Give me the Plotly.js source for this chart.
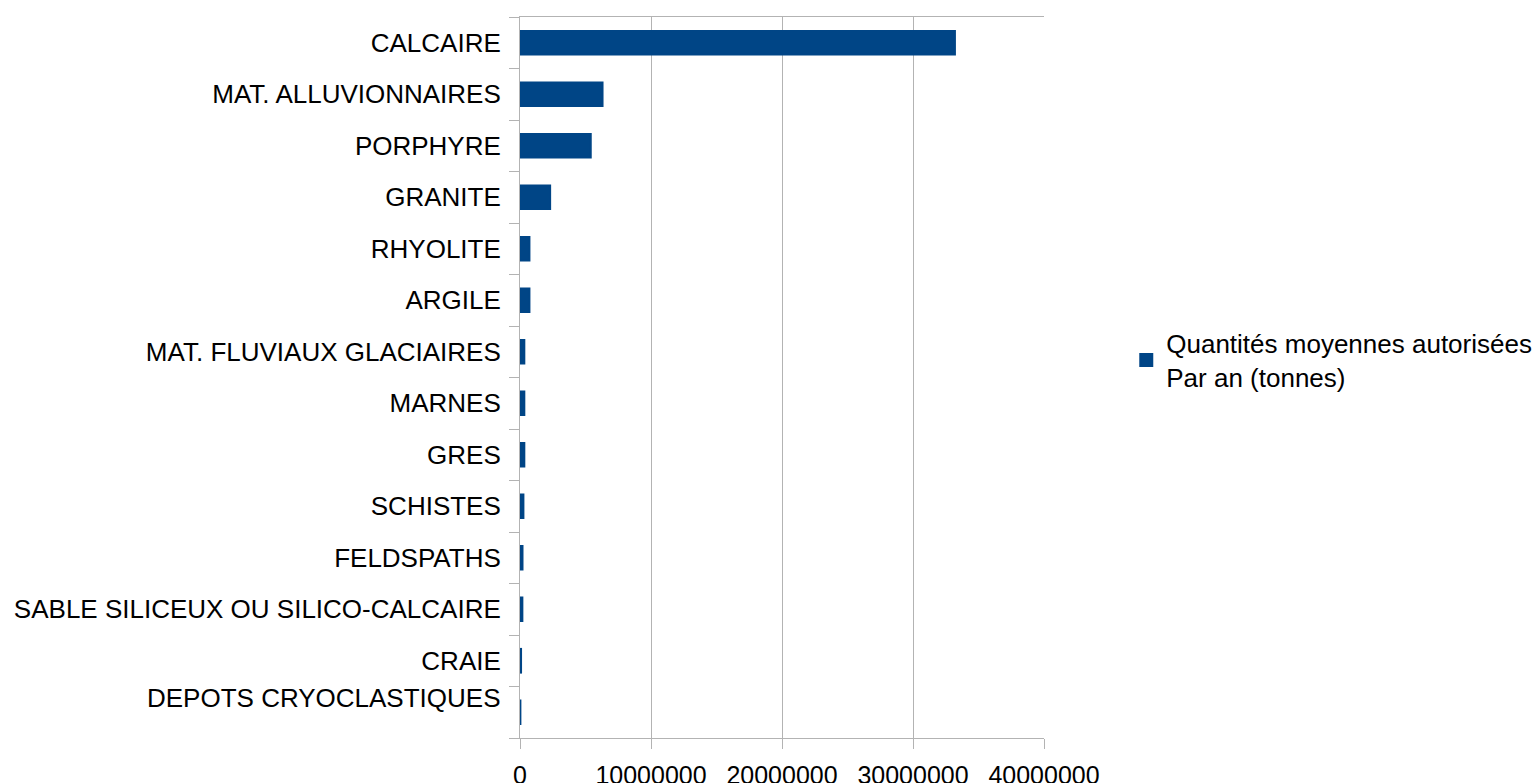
<!DOCTYPE html>
<html>
<head>
<meta charset="utf-8">
<script src="https://cdn.plot.ly/plotly-3.0.1.min.js"></script>
<style>
html, body { margin: 0; padding: 0; background: #ffffff; }
#chart { width: 1535px; height: 783px; }
</style>
</head>
<body>
<div id="chart"></div>
<script>
const categories = [
  "CALCAIRE",
  "MAT. ALLUVIONNAIRES",
  "PORPHYRE",
  "GRANITE",
  "RHYOLITE",
  "ARGILE",
  "MAT. FLUVIAUX GLACIAIRES",
  "MARNES",
  "GRES",
  "SCHISTES",
  "FELDSPATHS",
  "SABLE SILICEUX OU SILICO-CALCAIRE",
  "CRAIE",
  "DEPOTS CRYOCLASTIQUES"
];
const quantites = [
  33200000, 6300000, 5400000, 2300000, 720000, 720000,
  330000, 330000, 330000, 260000, 190000, 180000, 80000, 30000
];
const seriesName = "Quantités moyennes autorisées<br>Par an (tonnes)";
const xTickValues = [0, 10000000, 20000000, 30000000, 40000000];
const xTickLabels = ["0", "10000000", "20000000", "30000000", "40000000"];

const font = "Liberation Sans, Arial, sans-serif";
const grey = "#b3b3b3";
const blue = "#004586";

// The last category label sits a little higher in the reference (lifted clear of the x labels)
const lastIdx = categories.length - 1;
const yTickText = categories.map((c, i) => (i === lastIdx ? "" : c));

const trace = {
  type: "bar",
  orientation: "h",
  y: categories,
  x: quantites,
  name: seriesName,
  marker: { color: blue, line: { color: blue, width: 2 } },
  showlegend: true,
  hoverinfo: "x+y"
};

const layout = {
  width: 1535,
  height: 783,
  paper_bgcolor: "#ffffff",
  plot_bgcolor: "#ffffff",
  margin: { l: 520, r: 491, t: 17, b: 45, autoexpand: false },
  bargap: 0.54,
  font: { family: font, size: 26, color: "#000000" },
  showlegend: true,
  legend: {
    x: 1.157, xanchor: "left",
    y: 0.58, yanchor: "top",
    font: { family: font, size: 26, color: "#000000" },
    bgcolor: "rgba(0,0,0,0)",
    borderwidth: 0
  },
  annotations: [{
    xref: "paper", yref: "y",
    x: 0, y: categories[lastIdx],
    xanchor: "right", yanchor: "middle",
    xshift: -17, yshift: 14,
    text: categories[lastIdx],
    showarrow: false,
    font: { family: font, size: 26, color: "#000000" }
  }],
  xaxis: {
    range: [0, 40000000],
    tickvals: xTickValues,
    ticktext: xTickLabels,
    showgrid: true,
    gridcolor: grey,
    gridwidth: 1,
    zeroline: false,
    showline: true,
    linecolor: grey,
    linewidth: 1,
    mirror: true,
    ticks: "outside",
    ticklen: 10,
    tickcolor: grey,
    ticklabelstandoff: 5,
    tickfont: { family: font, size: 25, color: "#000000" },
    fixedrange: true
  },
  yaxis: {
    type: "category",
    range: [categories.length - 0.5, -0.5],
    tickvals: categories,
    ticktext: yTickText,
    showgrid: false,
    zeroline: false,
    showline: true,
    linecolor: grey,
    linewidth: 1,
    ticks: "outside",
    tickson: "boundaries",
    ticklen: 10,
    tickcolor: grey,
    ticklabelstandoff: 13,
    tickfont: { family: font, size: 26, color: "#000000" },
    fixedrange: true
  }
};

Plotly.newPlot("chart", [trace], layout, { displayModeBar: false, staticPlot: true });
</script>
</body>
</html>
